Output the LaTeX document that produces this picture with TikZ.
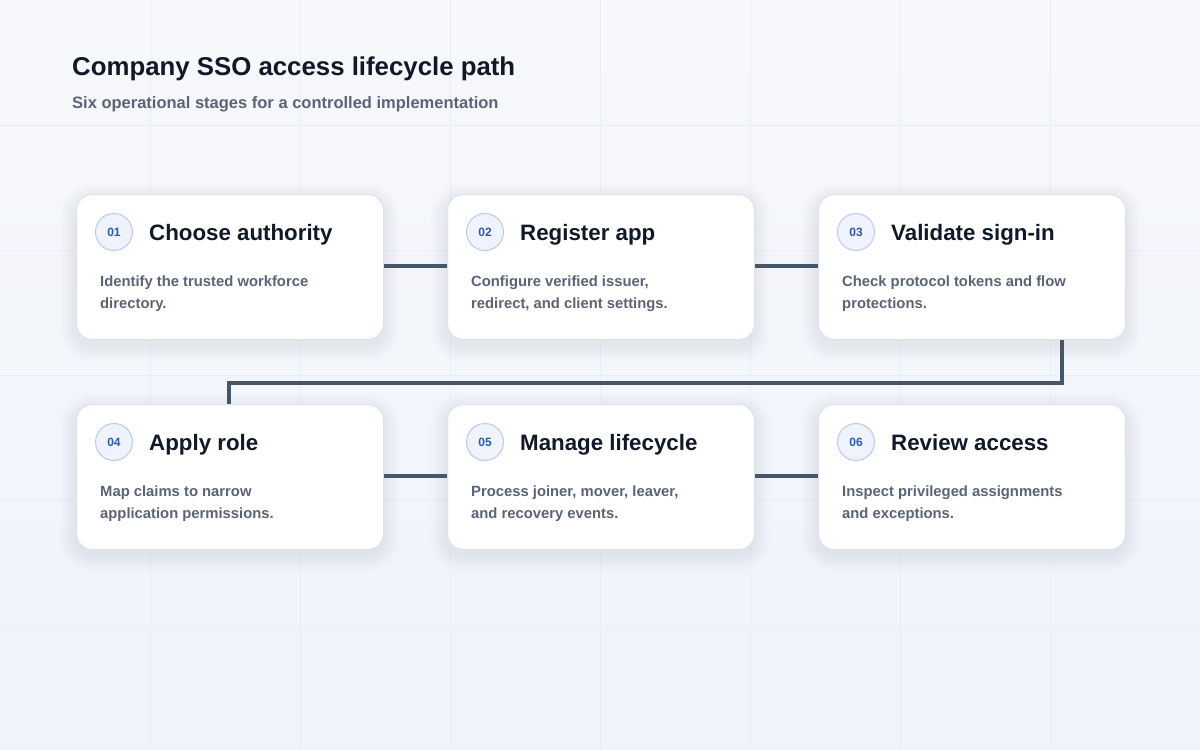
\documentclass[tikz,border=0pt]{standalone}
\usepackage{fontspec}
\setmainfont{Liberation Sans}
\definecolor{bgA}{HTML}{F7F8FB}
\definecolor{bgB}{HTML}{EEF3FC}
\definecolor{gridc}{HTML}{E9EDF4}
\definecolor{cardb}{HTML}{DCE3EE}
\definecolor{ttl}{HTML}{111827}
\definecolor{sub}{HTML}{5B6474}
\definecolor{body}{HTML}{5B6474}
\definecolor{conn}{HTML}{475569}
\definecolor{badgef}{HTML}{EEF3FD}
\definecolor{badgeb}{HTML}{B9CBEA}
\definecolor{badget}{HTML}{2F5BA8}
\definecolor{shad}{HTML}{5A6A8A}
\newcommand\mycard[7]{%
 \foreach \s in {2,4,...,16}{\fill[shad,opacity=0.012,rounded corners=16pt+\s pt] (#2-\s,#3+6-\s) rectangle (#2+307+\s,#3+151+\s);}
 \node[card] (c#1) at (#2,#3) {};
 \node[badge] (b#1) at (#2+38,#3+38) {0#1};
 \node[ctitle] (t#1) at (#2+73,#3+46) {#4};
 \node[cbody] (d#1) at (#2+24,#3+82) {#5\\#6};}
\begin{document}
\begin{tikzpicture}[x=1pt,y=-1pt,
 card/.style={draw=cardb,line width=1pt,fill=white,rounded corners=16pt,minimum width=307pt,minimum height=145pt,anchor=north west,inner sep=0pt},
 badge/.style={circle,draw=badgeb,line width=1pt,fill=badgef,minimum size=37pt,inner sep=0pt,font=\fontsize{12}{14}\selectfont\bfseries,text=badget},
 ctitle/.style={anchor=base west,font=\fontsize{22.3}{24}\selectfont\bfseries,text=ttl,inner sep=0pt},
 cbody/.style={anchor=north west,align=left,font=\fontsize{14.8}{22}\selectfont\bfseries,text=body,inner sep=0pt},
 conn/.style={draw=conn,line width=3.5pt}]
\shade[top color=bgA,bottom color=bgB] (0,0) rectangle (1200,750);
\useasboundingbox (0,0) rectangle (1200,750);
\foreach \x in {150,300,...,1050} \draw[gridc,line width=0.8pt] (\x,0)--(\x,750);
\foreach \y in {125,250,375,500,625} \draw[gridc,line width=0.8pt] (0,\y)--(1200,\y);
\node[anchor=west,inner sep=0pt,font=\fontsize{25.8}{28}\selectfont\bfseries,text=ttl] (title) at (72,69) {Company SSO access lifecycle path};
\node[anchor=west,inner sep=0pt,font=\fontsize{16.5}{18}\selectfont\bfseries,text=sub] (subt) at (72,104.5) {Six operational stages for a controlled implementation};
\mycard{1}{76}{194}{Choose authority}{Identify the trusted workforce}{directory.}{}
\mycard{2}{447}{194}{Register app}{Configure verified issuer,}{redirect, and client settings.}{}
\mycard{3}{818}{194}{Validate sign-in}{Check protocol tokens and flow}{protections.}{}
\mycard{4}{76}{404}{Apply role}{Map claims to narrow}{application permissions.}{}
\mycard{5}{447}{404}{Manage lifecycle}{Process joiner, mover, leaver,}{and recovery events.}{}
\mycard{6}{818}{404}{Review access}{Inspect privileged assignments}{and exceptions.}{}
\draw[conn] (c1.east|-0,266) -- (c2.west|-0,266);
\draw[conn] (c2.east|-0,266) -- (c3.west|-0,266);
\draw[conn] (c4.east|-0,476) -- (c5.west|-0,476);
\draw[conn] (c5.east|-0,476) -- (c6.west|-0,476);
\coordinate (k1) at (1062,383);
\coordinate (k2) at (229,383);
\draw[conn] (c3.south-|k1) -- (k1) -- (k2) -- (c4.north-|k2);
\end{tikzpicture}
\end{document}
